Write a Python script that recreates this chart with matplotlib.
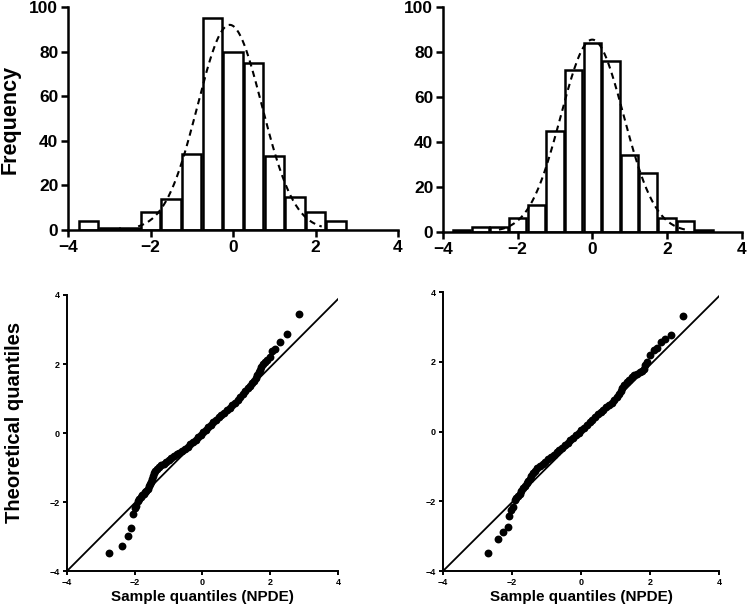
import numpy as np
import matplotlib.pyplot as plt

plt.rcParams['font.family'] = ['Liberation Sans', 'DejaVu Sans']
plt.rcParams['font.weight'] = 'bold'

# --- histogram data (bin width 0.5) ---
left_centers = [-3.5, -3.0, -2.5, -2.0, -1.5, -1.0, -0.5, 0.0, 0.5, 1.0, 1.5, 2.0, 2.5]
left_counts = [4, 1, 1, 8, 14, 34, 95, 80, 75, 33, 15, 8, 4]
right_centers = [-3.5, -3.0, -2.5, -2.0, -1.5, -1.0, -0.5, 0.0, 0.5, 1.0, 1.5, 2.0, 2.5, 3.0]
right_counts = [1, 2, 2, 6, 12, 45, 72, 84, 76, 34, 26, 6, 5, 1]

# fitted normal curves: amplitude, mean, sd, drawn range
left_fit = (92.0, -0.08, 0.78, -2.3, 2.15)
right_fit = (85.5, 0.0, 0.84, -2.5, 2.6)

# --- QQ data (sample, theoretical) ---
left_qq_x = [-2.75, -2.38, -2.21, -2.10, -2.05, -1.99, -1.95,
             -1.90, -1.86, -1.82, -1.78, -1.74, -1.70, -1.66, -1.62, -1.59, -1.56,
             -1.53, -1.50, -1.47, -1.44, -1.40, -1.35, -1.29, -1.22, -1.15, -1.08,
             -1.00, -0.92, -0.84, -0.76, -0.68, -0.60, -0.52, -0.44, -0.36, -0.28,
             -0.20, -0.12, -0.05, 0.02, 0.09, 0.16, 0.24, 0.32, 0.40, 0.48, 0.56,
             0.64, 0.72, 0.80, 0.88, 0.96, 1.04, 1.12, 1.19, 1.26, 1.33, 1.40, 1.47,
             1.53, 1.58, 1.62, 1.66, 1.70, 1.74, 1.79, 1.85, 1.92,
             1.98, 2.06, 2.13, 2.28, 2.51, 2.85]
left_qq_y = [-3.49, -3.28, -2.98, -2.75, -2.36, -2.18, -2.11,
             -1.98, -1.90, -1.85, -1.80, -1.76, -1.72, -1.67, -1.61, -1.55, -1.48,
             -1.41, -1.33, -1.25, -1.17, -1.10, -1.04, -0.99, -0.94, -0.89, -0.84,
             -0.78, -0.73, -0.68, -0.62, -0.57, -0.52, -0.46, -0.40, -0.33, -0.26,
             -0.19, -0.12, -0.05, 0.02, 0.09, 0.16, 0.24, 0.31, 0.38, 0.45, 0.52,
             0.59, 0.66, 0.73, 0.80, 0.88, 0.96, 1.04, 1.13, 1.22, 1.30, 1.37, 1.44,
             1.52, 1.60, 1.68, 1.76, 1.84, 1.92, 1.99, 2.06, 2.13,
             2.19, 2.37, 2.43, 2.64, 2.86, 3.46]

right_qq_x = [-2.71, -2.42, -2.25, -2.12, -2.08, -2.03, -1.96, -1.92,
              -1.88, -1.83, -1.78, -1.73, -1.67, -1.62, -1.58, -1.53, -1.48, -1.44,
              -1.40, -1.34, -1.27, -1.19, -1.11, -1.03, -0.95, -0.87, -0.79, -0.71,
              -0.63, -0.55, -0.47, -0.39, -0.31, -0.23, -0.15, -0.07, 0.01, 0.09,
              0.17, 0.25, 0.33, 0.41, 0.49, 0.57, 0.65, 0.73, 0.81, 0.89, 0.97,
              1.04, 1.10, 1.15, 1.20, 1.26, 1.33, 1.40, 1.47, 1.54, 1.62, 1.70,
              1.77, 1.82, 1.86,
              1.90, 2.00, 2.12, 2.19, 2.32, 2.43, 2.61, 2.95]
right_qq_y = [-3.49, -3.08, -2.87, -2.75, -2.41, -2.25, -2.17, -1.97,
              -1.90, -1.86, -1.79, -1.70, -1.62, -1.55, -1.49, -1.42, -1.35, -1.28,
              -1.20, -1.12, -1.06, -1.00, -0.93, -0.86, -0.79, -0.72, -0.66, -0.59,
              -0.53, -0.46, -0.39, -0.32, -0.25, -0.18, -0.11, -0.04, 0.03, 0.10,
              0.18, 0.26, 0.34, 0.42, 0.49, 0.56, 0.62, 0.69, 0.76, 0.83, 0.90,
              0.98, 1.07, 1.16, 1.25, 1.33, 1.41, 1.48, 1.55, 1.61, 1.66, 1.71,
              1.74, 1.80, 1.90,
              1.99, 2.19, 2.33, 2.39, 2.56, 2.64, 2.76, 3.30]

ref_x = [-4, 4]
ref_y = [-4, 3.88]

fig = plt.figure(figsize=(7.5, 6.1), dpi=100)


def style(ax, size, ticklen, lw):
    for s in ['top', 'right']:
        ax.spines[s].set_visible(False)
    for s in ['left', 'bottom']:
        ax.spines[s].set_linewidth(lw)
    ax.tick_params(direction='out', length=ticklen, width=lw, labelsize=size, pad=2)
    for lab in ax.get_xticklabels() + ax.get_yticklabels():
        lab.set_fontweight('bold')


def hist_panel(rect, centers, counts, fit):
    ax = fig.add_axes(rect)
    ax.bar(centers, counts, width=0.47, color='white', edgecolor='black', linewidth=1.8, zorder=2)
    amp, mu, sd, lo, hi = fit
    xs = np.linspace(lo, hi, 200)
    ax.plot(xs, amp * np.exp(-0.5 * ((xs - mu) / sd) ** 2), color='black', lw=1.5,
            ls=(0, (3, 2.2)), zorder=3)
    ax.set_xlim(-4, 4)
    ax.set_ylim(0, 100)
    ax.set_xticks([-4, -2, 0, 2, 4])
    ax.set_yticks([0, 20, 40, 60, 80, 100])
    style(ax, 12.5, 5, 1.8)
    return ax


def qq_panel(rect, xs, ys):
    ax = fig.add_axes(rect)
    ax.plot(ref_x, ref_y, color='black', lw=1.3, zorder=2)
    ax.scatter(xs, ys, s=32, color='black', linewidths=0, zorder=3, clip_on=False)
    ax.set_xlim(-4, 4)
    ax.set_ylim(-4, 4)
    ax.set_xticks([-4, -2, 0, 2, 4])
    ax.set_yticks([-4, -2, 0, 2, 4])
    style(ax, 6.5, 3, 1.4)
    ax.set_xlabel('Sample quantiles (NPDE)', fontsize=11, fontweight='bold', labelpad=2)
    return ax


hist_panel([0.0907, 0.623, 0.44, 0.3655], left_centers, left_counts, left_fit)
hist_panel([0.5907, 0.6197, 0.398, 0.3688], right_centers, right_counts, right_fit)
qq_panel([0.0893, 0.0639, 0.3613, 0.4525], left_qq_x, left_qq_y)
qq_panel([0.5907, 0.0639, 0.368, 0.4574], right_qq_x, right_qq_y)

fig.text(0.014, 1 - 119 / 610, 'Frequency', rotation=90, fontsize=15.5, fontweight='bold',
         ha='center', va='center')
fig.text(0.02, 1 - 422 / 610, 'Theoretical quantiles', rotation=90, fontsize=14.5,
         fontweight='bold', ha='center', va='center')

fig.savefig('out.png', dpi=100)
